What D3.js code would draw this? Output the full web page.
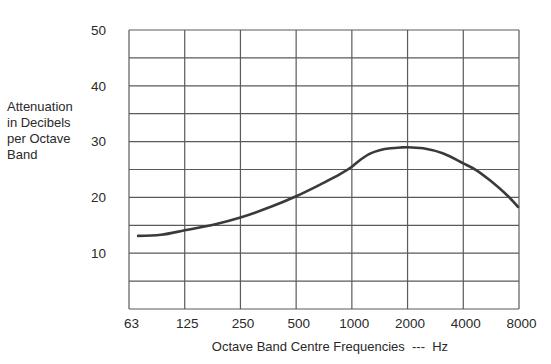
<!DOCTYPE html>
<html>
<head>
<meta charset="utf-8">
<script src="https://cdn.jsdelivr.net/npm/d3@7/dist/d3.min.js"></script>
<style>
  html, body { margin: 0; padding: 0; background: #fff; }
  svg { display: block; }
  text { font-family: "Liberation Sans", Arial, Helvetica, sans-serif; fill: #2a2a2a; }
</style>
</head>
<body>
<svg id="chart" width="551" height="364"></svg>
<script>
// ---- data ----
const freqTicks = [62.5, 125, 250, 500, 1000, 2000, 4000, 8000];
const freqTickLabels = ["63", "125", "250", "500", "1000", "2000", "4000", "8000"];
const dbGrid = [0, 5, 10, 15, 20, 25, 30, 35, 40, 45, 50];
const dbTickValues = [10, 20, 30, 40, 50];
const curveFreq = [70, 93, 125, 183, 250, 371, 500, 674, 868, 1000, 1117, 1263, 1429, 1620, 1834, 2000, 2429, 3097, 4000, 4693, 5551, 6988, 7900];
const curveDb   = [13.1, 13.3, 14.1, 15.2, 16.4, 18.4, 20.2, 22.3, 24.2, 25.5, 26.8, 27.9, 28.5, 28.8, 28.95, 29.0, 28.8, 27.9, 26.1, 24.9, 23.1, 20.2, 18.3];
const yTitleLines = ["Attenuation", "in Decibels", "per Octave", "Band"];
const xTitle = "Octave Band Centre Frequencies  ---  Hz";

(function () {
// ---- layout ----
const pl = 129, pr = 519, pt = 30, pb = 309;
const svg = d3.select("#chart");

const x = d3.scaleLog().base(2).domain([62.5, 8000]).range([pl, pr]);
const y = d3.scaleLinear().domain([0, 50]).range([pb, pt]);

const grid = svg.append("g").attr("stroke", "#5a5a5a").attr("stroke-width", 1.2).attr("fill", "none");
grid.selectAll("line.h").data(dbGrid).join("line")
  .attr("class", "h")
  .attr("x1", pl).attr("x2", pr)
  .attr("y1", d => y(d)).attr("y2", d => y(d));
grid.selectAll("line.v").data(freqTicks).join("line")
  .attr("class", "v")
  .attr("y1", pt).attr("y2", pb)
  .attr("x1", d => x(d)).attr("x2", d => x(d));

// y axis labels
const yAxis = d3.axisLeft(y).tickValues(dbTickValues).tickSize(0).tickPadding(0).tickFormat(d3.format("d"));
const gy = svg.append("g").attr("transform", "translate(106,0)").call(yAxis);
gy.select(".domain").remove();
gy.selectAll("text").style("font-size", "13.5px").attr("fill", "#2a2a2a")
  .style("font-family", "'Liberation Sans', Arial, sans-serif");

// x axis labels
const xAxis = d3.axisBottom(x).tickValues(freqTicks).tickSize(0).tickPadding(0)
  .tickFormat((d, i) => freqTickLabels[i]);
const gx = svg.append("g").attr("transform", "translate(2,318)").call(xAxis);
gx.select(".domain").remove();
gx.selectAll("text").style("font-size", "13.5px").attr("fill", "#2a2a2a")
  .style("font-family", "'Liberation Sans', Arial, sans-serif");

// curve
const pts = curveFreq.map((f, i) => [f, curveDb[i]]);
const line = d3.line().x(d => x(d[0])).y(d => y(d[1])).curve(d3.curveCatmullRom.alpha(0.5));
svg.append("path").datum(pts)
  .attr("d", line)
  .attr("fill", "none")
  .attr("stroke", "#3a3a3a")
  .attr("stroke-width", 2.6)
  .attr("stroke-linecap", "round");

// y title
svg.append("g").selectAll("text").data(yTitleLines).join("text")
  .attr("x", 7)
  .attr("y", (d, i) => 111 + i * 16)
  .style("font-size", "13px")
  .text(d => d);

// x title
svg.append("text")
  .attr("x", 330).attr("y", 351)
  .attr("text-anchor", "middle")
  .style("font-size", "13px")
  .style("white-space", "pre")
  .attr("xml:space", "preserve")
  .text(xTitle);
})();
</script>
</body>
</html>
